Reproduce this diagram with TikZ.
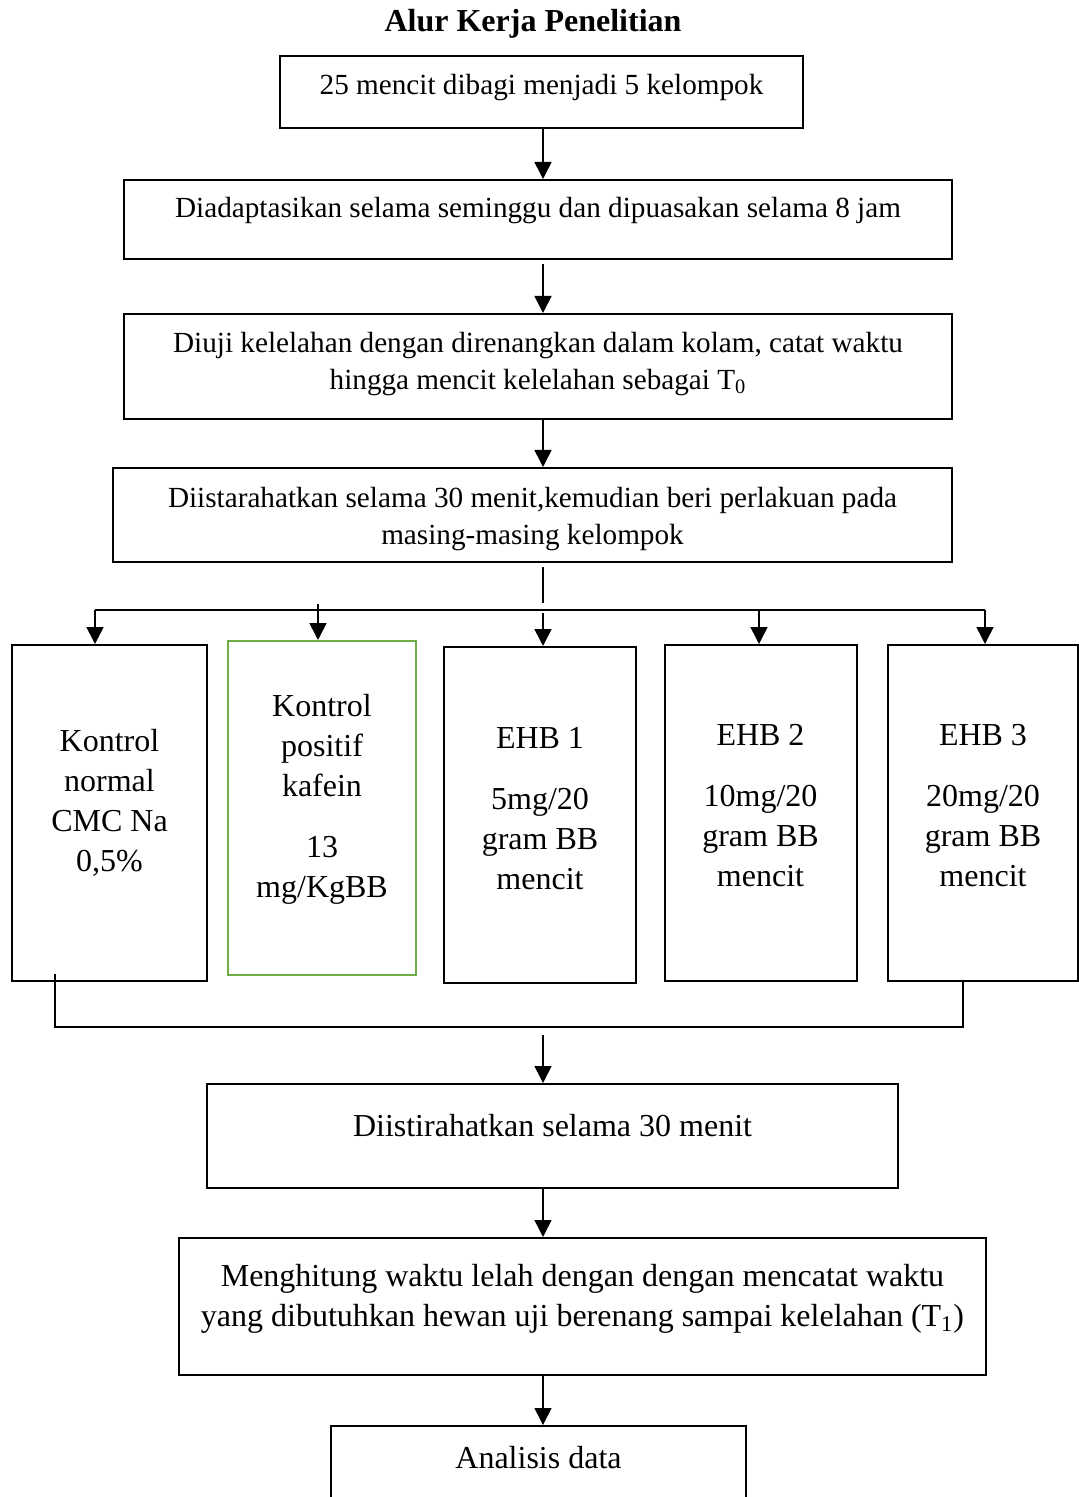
\documentclass[tikz,border=0pt]{standalone}
\usepackage{fontspec}
\setmainfont{Liberation Serif}
\usetikzlibrary{arrows.meta}
\definecolor{boxgreen}{RGB}{112,173,71}

\begin{document}
\begin{tikzpicture}[x=0.5pt, y=-0.5pt,
>={Triangle[length=8.5pt,width=8.5pt]},
box/.style={rectangle,draw=black,line width=1.2pt,anchor=north,inner ysep=0pt,align=center,font=\fontsize{14.6}{18.2}\selectfont},
bigbox/.style={rectangle,draw=black,line width=1.2pt,anchor=north,inner ysep=0pt,align=center,font=\fontsize{16}{20}\selectfont},
grpbox/.style={bigbox,minimum width=96pt,line width=1pt},
link/.style={line width=0.8pt},
]
\useasboundingbox (0,0) rectangle (1079,1497);
\clip (0,0) rectangle (1079,1497);

% Alur Kerja Penelitian
\node[font=\fontsize{16}{18}\selectfont\bfseries] (title) at (533,24) {Alur Kerja Penelitian};
\coordinate (axis) at (543,0);

\node[box, minimum width=261.5pt, text height=19pt, text depth=17pt] (b1) at (541.5,55) {25 mencit dibagi menjadi 5 kelompok};
\node[box, minimum width=414pt, text height=18.5pt, text depth=21pt] (b2) at (538,179) {Diadaptasikan selama seminggu dan dipuasakan selama 8 jam};
\node[box, minimum width=414pt, text height=37.5pt, text depth=15pt] (b3) at (538,313) {Diuji kelelahan dengan direnangkan dalam kolam, catat waktu\\hingga mencit kelelahan sebagai T\textsubscript{0}};
\node[box, minimum width=419.5pt, text height=38pt, text depth=9pt] (b4) at (532.5,467) {Diistarahatkan selama 30 menit,kemudian beri perlakuan pada\\masing-masing kelompok};

% kelompok perlakuan
\node[grpbox, minimum width=97.5pt, text height=113pt, text depth=55pt] (k1) at (109.5,644) {Kontrol\\normal\\CMC Na\\0,5\%};
\node[grpbox, draw=boxgreen, minimum width=94pt, text height=128pt, text depth=39pt] (k2) at (322,640) {Kontrol\\positif\\kafein\\[10.5pt]13\\mg/KgBB};
\node[grpbox, text height=121pt, text depth=47pt] (k3) at (540,646) {EHB 1\\[10.5pt]5mg/20\\gram BB\\mencit};
\node[grpbox, text height=120.5pt, text depth=47.5pt] (k4) at (760.5,644) {EHB 2\\[10.5pt]10mg/20\\gram BB\\mencit};
\node[grpbox, minimum width=95pt, text height=120.5pt, text depth=47.5pt] (k5) at (983,644) {EHB 3\\[10.5pt]20mg/20\\gram BB\\mencit};

\node[bigbox, minimum width=345.5pt, text height=26pt, text depth=26pt] (b5) at (552.5,1083) {Diistirahatkan selama 30 menit};
\node[bigbox, minimum width=403.5pt, text height=44pt, text depth=24.5pt] (b6) at (582.5,1237) {Menghitung waktu lelah dengan dengan mencatat waktu\\yang dibutuhkan hewan uji berenang sampai kelelahan (T\textsubscript{1})};
\node[bigbox, minimum width=207.5pt, text height=21pt, text depth=26.5pt] (b7) at (538.5,1425) {Analisis data};

% percabangan
\coordinate (split) at (543,603);
\coordinate (busL) at (95,610);
\coordinate (busR) at (985,610);
\coordinate (t1) at (95,610);
\coordinate (t2) at (318,604);
\coordinate (t3) at (543,613);
\coordinate (t4) at (759,610);
\coordinate (t5) at (985,610);
\coordinate (jL) at (55,1027);
\coordinate (jR) at (963,1027);
\coordinate (merge) at (543,1035);

\draw[->, link] (b1.south -| axis) -- (b2.north -| axis);
\draw[->, link] ([yshift=-2pt]b2.south -| axis) -- (b3.north -| axis);
\draw[->, link] (b3.south -| axis) -- (b4.north -| axis);
\draw[line width=0.6pt] ([yshift=-2pt]b4.south -| axis) -- (split);
\draw[line width=0.7pt] (busL) -- (busR);
\draw[->, link] (t1) -- (t1 |- k1.north);
\draw[->, link] (t2) -- (t2 |- k2.north);
\draw[->, link] (t3) -- (t3 |- k3.north);
\draw[->, link] (t4) -- (t4 |- k4.north);
\draw[->, link] (t5) -- (t5 |- k5.north);

\draw[line width=0.6pt] ([yshift=4pt]k1.south -| jL) -- (jL) -- (jR) -- (k5.south -| jR);
\draw[->, link] (merge) -- (b5.north -| axis);
\draw[->, link] (b5.south -| axis) -- (b6.north -| axis);
\draw[->, link] (b6.south -| axis) -- (b7.north -| axis);

\end{tikzpicture}
\end{document}
